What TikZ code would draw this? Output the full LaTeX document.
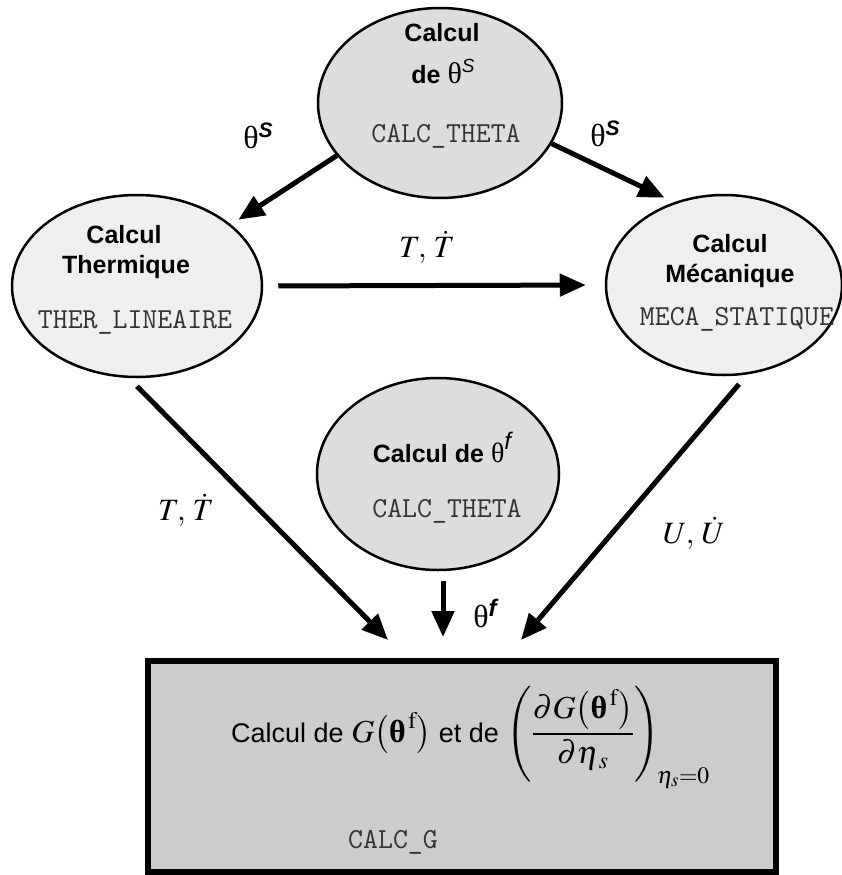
\documentclass[tikz,border=0pt]{standalone}
\usepackage{amsmath}
\usepackage{mathptmx}
\usepackage[no-math]{fontspec}
\setmainfont{Liberation Sans}
\newfontfamily\grk{Liberation Serif}
\usetikzlibrary{shapes.geometric,arrows.meta}
\definecolor{ellgray}{HTML}{DDDDDD}
\definecolor{elllight}{HTML}{EFEFEF}
\definecolor{boxgray}{HTML}{CCCCCC}
\newcommand\mytheta[1]{{\fontsize{#1}{#1}\selectfont\grk\mdseries\upshape θ}}
\tikzset{
  ell/.style={ellipse, draw=black, line width=2.5pt, inner sep=0pt},
  ellA/.style={ell, fill=ellgray},
  ellB/.style={ell, fill=elllight},
  title/.style={font=\fontsize{25}{30}\selectfont\bfseries, anchor=base, inner sep=0pt},
  code/.style={font=\fontsize{29}{32}\selectfont\ttfamily, anchor=base, inner sep=0pt, text=black!80},
  lab/.style={anchor=base, inner sep=0pt},
  flow/.style={line width=5pt, -{Triangle[length=26pt,width=22pt]}},
}
\begin{document}
\begin{tikzpicture}[x=1pt,y=-1pt]
\useasboundingbox (0,0) rectangle (842,875);
% ellipses
\node[ellA, minimum width=244pt, minimum height=190pt] (top) at (440,103) {};
\node[ellB, minimum width=250pt, minimum height=182pt] (left) at (137,286) {};
\node[ellB, minimum width=236pt, minimum height=180pt] (right) at (724,285) {};
\node[ellA, minimum width=242pt, minimum height=192pt] (mid) at (438,474) {};
% box
\node[draw=black, fill=boxgray, line width=6pt, minimum width=628pt, minimum height=211pt, inner sep=0pt] (box) at (462,766.5) {};
% texts in top ellipse
\node[title] (t1) at (442,42) {Calcul};
\node[title] (t2) at (443,83) {de \mytheta{30}\raisebox{10pt}{\fontsize{19}{19}\selectfont\mdseries\itshape S}};
\node[code] (t3) at (446,142) {CALC\_THETA};
% left ellipse
\node[title] (l1) at (124,243) {Calcul};
\node[title] (l2) at (126,273) {Thermique};
\node[code] (l3) at (135,328) {THER\_LINEAIRE};
% right ellipse
\node[title] (r1) at (730,252) {Calcul};
\node[title] (r2) at (730,282) {Mécanique};
\node[code] (r3) at (737,325) {MECA\_STATIQUE};
% middle ellipse
\node[title] (m1) at (442,462) {Calcul de \mytheta{28}\raisebox{13pt}{\fontsize{24}{24}\selectfont\mdseries\itshape f}};
\node[code] (m2) at (447,517) {CALC\_THETA};
% box texts
\node[anchor=base west, inner sep=0pt, font=\fontsize{27}{30}\selectfont] (formula) at (231,742)
  {Calcul de {\fontsize{32}{40}\selectfont$G\bigl(\text{\grk\bfseries θ}^{\,\mathrm{f}}\bigr)$} et de {\fontsize{32}{40}\selectfont$\left(\dfrac{\partial G\bigl(\text{\grk\bfseries θ}^{\,\mathrm{f}}\bigr)}{\partial\eta_{\,s}}\right)_{\!\eta_s=0}$}};
\node[code] (g1) at (393,848) {CALC\_G};
% labels
\node[lab] (ls1) at (258,148) {\mytheta{32}\raisebox{11pt}{\fontsize{21}{21}\selectfont\bfseries\itshape S}};
\node[lab] (ls2) at (605,146) {\mytheta{32}\raisebox{11pt}{\fontsize{21}{21}\selectfont\bfseries\itshape S}};
\node[lab] (lt1) at (427,257) {\fontsize{31}{31}\selectfont$T,\,\dot T$};
\node[lab] (lt2) at (186,520) {\fontsize{31}{31}\selectfont$T,\,\dot T$};
\node[lab] (lu) at (694,543) {\fontsize{31}{31}\selectfont$U,\,\dot U$};
\node[lab] (lf) at (485,627) {\mytheta{32}\raisebox{11pt}{\fontsize{24}{24}\selectfont\bfseries\itshape f}};
% connectors
\draw[flow] (top.207) -- ([xshift=7pt,yshift=5pt]left.33);
\draw[flow] (top.340) -- ([xshift=-8pt,yshift=5pt]right.122);
\draw[flow, shorten <=15pt, shorten >=19pt] (left.east) -- (right.west);
\draw[flow] ([yshift=-8pt]left.south) -- ([xshift=-74pt,yshift=18pt]box.north);
\draw[flow] ([xshift=15pt,yshift=-8pt]right.south) -- ([xshift=59pt,yshift=18pt]box.north);
\draw[flow] ([xshift=5pt,yshift=-10pt]mid.south) -- ([xshift=-19pt,yshift=21pt]box.north);
\end{tikzpicture}
\end{document}
